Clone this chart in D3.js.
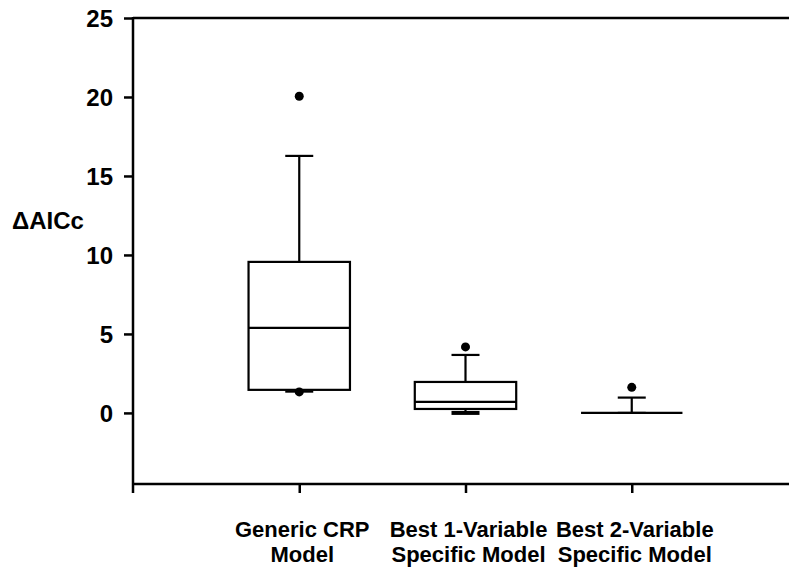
<!DOCTYPE html>
<html><head><meta charset="utf-8">
<script src="https://cdn.jsdelivr.net/npm/d3@7"></script>
<style>body{margin:0;background:#fff}svg{display:block}text{font-family:"Liberation Sans",Arial,sans-serif;font-weight:bold;fill:#000}</style>
</head><body><svg id="c" width="789" height="568"></svg>
<script>
const categories = [["Generic CRP","Model"],["Best 1-Variable","Specific Model"],["Best 2-Variable","Specific Model"]];
const whiskerLow  = [1.35, 0.0, 0.0];
const q1          = [1.46, 0.25, 0.0];
const median      = [5.38, 0.70, 0.0];
const q3          = [9.56, 1.96, 0.0];
const whiskerHigh = [16.27, 3.67, 0.97];
const outliers    = [[20.05, 1.33], [4.18], [1.62]];
const yTicks = [0, 5, 10, 15, 20, 25];

const svg = d3.select("#c");
const x = d3.scaleLinear().domain([0, 4]).range([133, 798]);
const y = d3.scaleLinear().domain([-4.5, 25]).range([484, 18]);

svg.append("line").attr("x1",133).attr("x2",789).attr("y1",y(25)).attr("y2",y(25)).attr("stroke","#000").attr("stroke-width",2.5);

const yAxis = svg.append("g").attr("transform","translate(133,0)")
  .call(d3.axisLeft(y).tickValues(yTicks).tickSize(9).tickPadding(11).tickFormat(d3.format("d")));
yAxis.select(".domain").remove();
yAxis.selectAll("line").attr("stroke","#000").attr("stroke-width",2.5);
yAxis.selectAll("text").style("font-size","24px").attr("dy","0.36em");
svg.append("line").attr("x1",133).attr("x2",133).attr("y1",y(25)-1).attr("y2",493).attr("stroke","#000").attr("stroke-width",2.5);

const xAxis = svg.append("g").attr("transform","translate(0,484)")
  .call(d3.axisBottom(x).tickValues([1,2,3]).tickSize(9).tickFormat(""));
xAxis.select(".domain").remove();
xAxis.selectAll("line").attr("stroke","#000").attr("stroke-width",2.5);
svg.append("line").attr("x1",133).attr("x2",789).attr("y1",484).attr("y2",484).attr("stroke","#000").attr("stroke-width",2.5);

categories.forEach((lab,i)=>{
  const t = svg.append("text").attr("x", x(i+1)+3).attr("y", 537).attr("text-anchor","middle").style("font-size","22px");
  lab.forEach((l,j)=> t.append("tspan").attr("x", x(i+1)+3).attr("dy", j?25:0).text(l));
});

svg.append("text").attr("x",12).attr("y",229).style("font-size","24px").text("\u0394AICc");

const bw = (x(1)-x(0))*0.61, cw = 28;
categories.forEach((c,i)=>{
  const cx = x(i+1);
  const g = svg.append("g").attr("stroke","#000").attr("stroke-width",2.2).attr("fill","none");
  g.append("line").attr("x1",cx).attr("x2",cx).attr("y1",y(q3[i])).attr("y2",y(whiskerHigh[i]));
  g.append("line").attr("x1",cx-cw/2).attr("x2",cx+cw/2).attr("y1",y(whiskerHigh[i])).attr("y2",y(whiskerHigh[i]));
  g.append("line").attr("x1",cx).attr("x2",cx).attr("y1",y(q1[i])).attr("y2",y(whiskerLow[i]));
  g.append("line").attr("x1",cx-cw/2).attr("x2",cx+cw/2).attr("y1",y(whiskerLow[i])).attr("y2",y(whiskerLow[i]))
    .attr("stroke-width", i===1?4:2.2);
  if (q3[i] > q1[i]) {
    g.append("rect").attr("x",cx-bw/2).attr("width",bw).attr("y",y(q3[i])).attr("height",y(q1[i])-y(q3[i])).attr("fill","#fff");
  }
  g.append("line").attr("x1",cx-bw/2).attr("x2",cx+bw/2).attr("y1",y(median[i])).attr("y2",y(median[i]));
  outliers[i].forEach(v=> svg.append("circle").attr("cx",cx).attr("cy",y(v)).attr("r",4.5).attr("fill","#000"));
});
</script></body></html>
